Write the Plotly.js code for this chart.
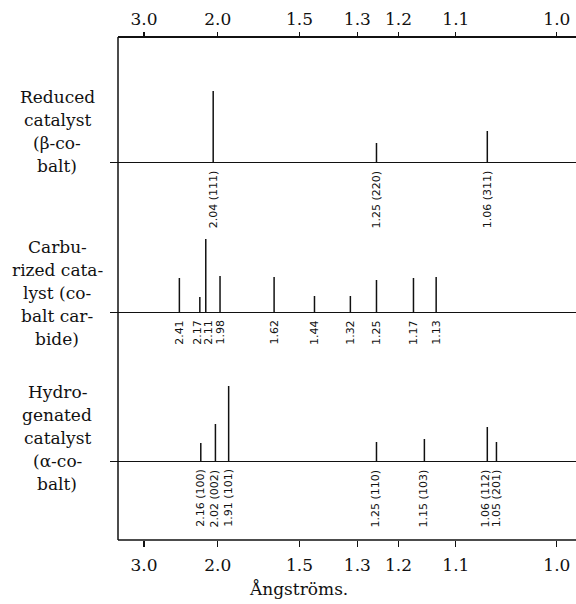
<!DOCTYPE html>
<html><head><meta charset="utf-8">
<script src="https://cdn.plot.ly/plotly-3.0.1.min.js"></script>
<style>html,body{margin:0;padding:0;background:#fff}</style>
</head><body><div id="chart" style="width:576px;height:604px"></div>
<script>
// Axis ticks (d-spacings in Ångströms)
const tickD = [3.0, 2.0, 1.5, 1.3, 1.2, 1.1, 1.0];
const tickText = ["3.0", "2.0", "1.5", "1.3", "1.2", "1.1", "1.0"];

// Reduced catalyst (beta-cobalt)
const reducedD = [2.04, 1.25, 1.06];
const reducedI = [72, 20, 32];
const reducedLabels = ["2.04 (111)", "1.25 (220)", "1.06 (311)"];

// Carburized catalyst (cobalt carbide)
const carbD = [2.41, 2.17, 2.11, 1.98, 1.62, 1.44, 1.32, 1.25, 1.17, 1.13];
const carbI = [35, 16, 74, 37, 36, 17, 17, 33, 35, 36];
const carbLabels = ["2.41", "2.17", "2.11", "1.98", "1.62", "1.44", "1.32", "1.25", "1.17", "1.13"];

// Hydrogenated catalyst (alpha-cobalt)
const hydroD = [2.16, 2.02, 1.91, 1.25, 1.15, 1.06, 1.05];
const hydroI = [19, 38, 76, 20, 23, 35, 20];
const hydroLabels = ["2.16 (100)", "2.02 (002)", "1.91 (101)", "1.25 (110)", "1.15 (103)", "1.06 (112)", "1.05 (201)"];

// Sample names (one entry per printed line)
const reducedName = ["Reduced", "catalyst", "(\u03B2-co-", "balt)"];
const carbName = ["Carbu-", "rized cata-", "lyst (co-", "balt car-", "bide)"];
const hydroName = ["Hydro-", "genated", "catalyst", "(\u03B1-co-", "balt)"];

const xTitle = "\u00C5ngstr\u00F6ms.";

// Scale: axis linear in Bragg angle (Fe K-alpha)
const LAMBDA = 1.937;
function theta(d) { return Math.asin(LAMBDA / (2 * d)) * 180 / Math.PI; }
const X_RANGE = [15.26, 78.21];

// Layout geometry (pixels)
const W = 576, H = 604, L = 118, T = 37, B = 64, R = 0;
const PW = W - L - R, PH = H - T - B;
function py(px) { return (H - B - px) / PH; }   // pixel row -> paper y
function pxX(px) { return (px - L) / PW; }      // pixel col -> paper x
const degPerPx = (X_RANGE[1] - X_RANGE[0]) / PW;

const panels = [
  {d: reducedD, I: reducedI, lab: reducedLabels, name: reducedName, ax: 'y3', base: 163, top: 97},
  {d: carbD, I: carbI, lab: carbLabels, name: carbName, ax: 'y2', base: 313, top: 247},
  {d: hydroD, I: hydroI, lab: hydroLabels, name: hydroName, ax: 'y', base: 462, top: 392}
];
const NAME_LINE = 23;
const MIN_LABEL_GAP = 11; // px between rotated labels

const ink = '#111';
const traces = [];
const shapes = [];
const annotations = [];
const tickFont = {family: 'DejaVu Serif', size: 17, color: ink};
const layout = {
  width: W, height: H,
  margin: {l: L, r: R, t: T, b: B, pad: 0},
  paper_bgcolor: '#fff', plot_bgcolor: '#fff',
  showlegend: false,
  xaxis: {
    range: X_RANGE, anchor: 'free', position: 0,
    tickmode: 'array', tickvals: tickD.map(theta), ticktext: tickText,
    ticks: 'outside', ticklen: 6, tickwidth: 1.2, tickcolor: ink,
    ticklabelstandoff: 4,
    showgrid: false, zeroline: false, showline: false, fixedrange: true,
    tickfont: tickFont
  },
  xaxis2: {
    range: X_RANGE, overlaying: 'x', side: 'top', anchor: 'free', position: 1,
    tickmode: 'array', tickvals: tickD.map(theta), ticktext: tickText,
    ticks: 'outside', ticklen: 5, tickwidth: 1.2, tickcolor: ink,
    showgrid: false, zeroline: false, showline: false, fixedrange: true,
    tickfont: tickFont
  }
};

// dummy trace so the top axis is drawn
traces.push({x: tickD.map(theta), y: tickD.map(() => null), xaxis: 'x2', yaxis: 'y',
  mode: 'markers', marker: {opacity: 0}, hoverinfo: 'skip'});

panels.forEach(p => {
  const key = p.ax === 'y' ? 'yaxis' : 'yaxis' + p.ax.slice(1);
  layout[key] = {
    domain: [py(p.base), py(p.base - 100)],
    range: [0, 100],
    visible: false, fixedrange: true
  };
  const xs = [], ys = [];
  p.d.forEach((d, i) => { const t = theta(d); xs.push(t, t, null); ys.push(0, p.I[i], null); });
  traces.push({x: xs, y: ys, xaxis: 'x', yaxis: p.ax, mode: 'lines',
    line: {color: ink, width: 1.5}, hoverinfo: 'skip'});
  shapes.push({type: 'line', xref: 'paper', yref: p.ax, x0: -8 / PW, x1: 1, y0: 0, y1: 0,
    line: {color: ink, width: 2}});

  // label positions, pushed apart where they would collide
  const lx = p.d.map(d => theta(d) / degPerPx);
  for (let i = 1; i < lx.length; i++) {
    const gap = lx[i] - lx[i - 1];
    if (gap < MIN_LABEL_GAP) {
      const s = (MIN_LABEL_GAP - gap) / 2;
      lx[i - 1] -= s; lx[i] += s;
    }
  }
  p.d.forEach((d, i) => {
    annotations.push({x: theta(d), xref: 'x', xshift: lx[i] - theta(d) / degPerPx,
      y: 0, yref: p.ax, text: p.lab[i],
      textangle: -90, xanchor: 'center', yanchor: 'top', yshift: -5, showarrow: false,
      font: {family: 'DejaVu Sans', size: 11, color: ink}});
  });
  p.name.forEach((s, i) => {
    annotations.push({x: pxX(57), xref: 'paper', y: py(p.top + i * NAME_LINE), yref: 'paper', text: s,
      xanchor: 'center', yanchor: 'middle', showarrow: false,
      font: {family: 'DejaVu Serif', size: 17, color: ink}});
  });
});

// Frame
shapes.push({type: 'line', xref: 'paper', yref: 'paper', x0: 0, x1: 0, y0: 0, y1: 1, line: {color: ink, width: 1.5}});
shapes.push({type: 'line', xref: 'paper', yref: 'paper', x0: 0, x1: 1, y0: 1, y1: 1, line: {color: ink, width: 2}});
shapes.push({type: 'line', xref: 'paper', yref: 'paper', x0: 0, x1: 1, y0: 0, y1: 0, line: {color: ink, width: 1.5}});

annotations.push({x: pxX(298), xref: 'paper', y: py(589), yref: 'paper', text: xTitle,
  xanchor: 'center', yanchor: 'middle', showarrow: false,
  font: {family: 'DejaVu Serif', size: 17, color: ink}});

layout.shapes = shapes;
layout.annotations = annotations;

Plotly.newPlot('chart', traces, layout, {staticPlot: true, displayModeBar: false});
</script>
</body></html>
